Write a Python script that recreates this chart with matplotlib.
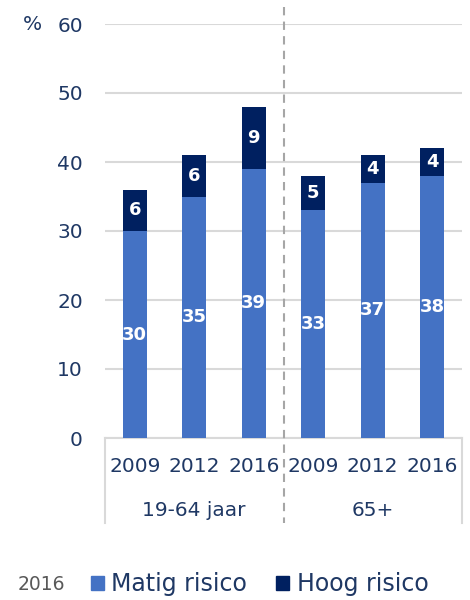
import numpy as np
import matplotlib
matplotlib.use("Agg")
import matplotlib.pyplot as plt
from matplotlib.patches import Patch
import matplotlib.transforms as mtransforms

years = ["2009", "2012", "2016", "2009", "2012", "2016"]
groups = ["19-64 jaar", "65+"]
matig = [30, 35, 39, 33, 37, 38]
hoog = [6, 6, 9, 5, 4, 4]

blue = "#4472C4"
navy = "#002060"
txt = "#1F3864"
grid = "#D9D9D9"

plt.rcParams['font.family'] = ['DejaVu Sans']

fig = plt.figure(figsize=(4.7, 6), dpi=100)
ax = fig.add_axes([105/470, 162/600, 357/470, 414/600])

x = np.arange(len(years))
ax.bar(x, matig, width=0.41, color=blue, zorder=3)
ax.bar(x, hoog, width=0.41, bottom=matig, color=navy, zorder=3)

for i in range(len(x)):
    ax.text(x[i], matig[i] / 2, str(matig[i]), ha='center', va='center',
            color='white', fontsize=13, fontweight='bold', zorder=4)
    ax.text(x[i], matig[i] + hoog[i] / 2, str(hoog[i]), ha='center', va='center',
            color='white', fontsize=13, fontweight='bold', zorder=4)

ax.set_xlim(-0.5, 5.5)
ax.set_ylim(0, 60)
ax.set_yticks(range(0, 61, 10))
ax.yaxis.grid(True, color=grid, linewidth=1.5, zorder=0)
ax.tick_params(axis='y', length=0, pad=16, labelsize=14.5, labelcolor=txt)
ax.set_xticks([])
for s in ['top', 'right', 'left']:
    ax.spines[s].set_visible(False)
ax.spines['bottom'].set_color(grid)
ax.spines['bottom'].set_linewidth(1.5)

trans = mtransforms.blended_transform_factory(ax.transData, ax.transAxes)
for i, yr in enumerate(years):
    ax.text(x[i], -0.07, yr, transform=trans, ha='center', va='center',
            fontsize=14.5, color=txt)
for g, xc in zip(groups, [1, 4]):
    ax.text(xc, -0.175, g, transform=trans, ha='center', va='center',
            fontsize=14.5, color=txt)

for xs in [-0.5, 5.5]:
    ax.plot([xs, xs], [0, -0.205], transform=trans, color=grid, lw=1.5, clip_on=False)
ax.plot([2.5, 2.5], [1.04, -0.205], transform=trans, color="#A6A6A6", lw=1.5,
        ls=(0, (4, 3)), clip_on=False, zorder=5)

fig.text(23/470, 1 - 24/600, "%", ha='left', va='center', fontsize=14.5, color=txt)

handles = [Patch(color=blue, label="Matig risico"), Patch(color=navy, label="Hoog risico")]
fig.legend(handles=handles, loc='center left', bbox_to_anchor=(91/470, 1 - 584/600),
           ncol=2, frameon=False, fontsize=17, labelcolor=txt, handlelength=0.55,
           handleheight=0.55, handletextpad=0.3, columnspacing=1.25,
           borderpad=0, borderaxespad=0)
fig.text(18/470, 1 - 584/600, "2016", ha='left', va='center', fontsize=13.5, color="#595959")

fig.savefig("out.png", dpi=100)
